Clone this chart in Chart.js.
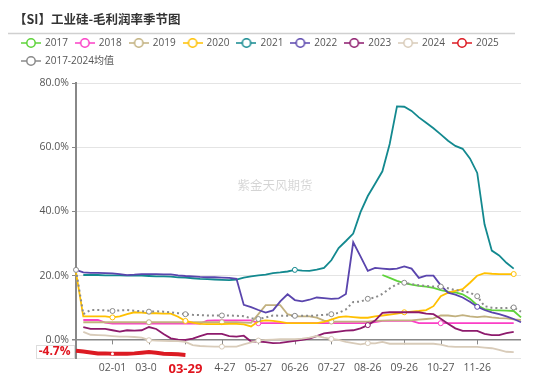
<!DOCTYPE html>
<html><head><meta charset="utf-8">
<script src="https://cdn.jsdelivr.net/npm/chart.js@4/dist/chart.umd.min.js"></script>
<style>html,body{margin:0;padding:0;background:#fff;}#wrap{width:550px;height:378px;position:relative;}</style>
</head><body><div id="wrap"><canvas id="c" width="550" height="378"></canvas></div>
<script>
const titleText = '【SI】工业硅-毛利润率季节图';
const watermark = '紫金天风期货';
const categories = ['01-02','01-08','01-14','01-20','01-26','02-01','02-07','02-13','02-19','02-24',
'03-01','03-07','03-13','03-18','03-23','03-29','04-04','04-10','04-16','04-21',
'04-27','05-03','05-09','05-15','05-21','05-27','06-02','06-08','06-14','06-20',
'06-26','07-02','07-08','07-14','07-20','07-27','08-02','08-08','08-14','08-20',
'08-26','09-01','09-07','09-13','09-19','09-26','10-02','10-08','10-14','10-20',
'10-27','11-02','11-08','11-14','11-20','11-26','12-02','12-08','12-14','12-20','12-26','12-31'];
const xTickLabels = ['02-01','03-01','03-29','04-27','05-27','06-26','07-27','08-26','09-26','10-27','11-26'];
const yTicks = [0, 20, 40, 60, 80];
const seriesNames = ['2017','2018','2019','2020','2021','2022','2023','2024','2025','2017-2024均值'];
const seriesColors = ['#5ed33a','#fb3fc6','#c2b17f','#ffc000','#13898f','#5a45ad','#8d1a6c','#d8cbb9','#dc1a22','#8a8a8a'];
// which category indices carry a hollow symbol, per series (as seen in the source)
const markerIdx = [
  [],
  [25, 50],
  [10, 20, 35],
  [5, 15, 45, 60],
  [30],
  [55],
  [40],
  [10, 20, 25, 35, 40],
  [5],
  [0, 5, 10, 15, 20, 25, 30, 35, 40, 45, 50, 55, 60]
];

const s2017 = [null,null,null,null,null,null,null,null,null,null,
null,null,null,null,null,null,null,null,null,null,
null,null,null,null,null,null,null,null,null,null,
null,null,null,null,null,null,null,null,null,null,
null,null,20.2,19.3,18.4,17.7,17.2,16.8,16.6,16.2,
15.5,15.0,14.8,14.2,12.8,10.8,9.6,9.3,9.2,9.1,9.0,7.0];
const s2018 = [null,6.2,6.2,6.2,5.4,5.1,5.1,5.1,5.1,5.1,
5.1,5.1,5.1,5.1,5.1,5.1,5.1,5.1,6.0,6.1,
6.1,6.1,6.1,6.1,6.1,5.2,5.2,5.2,5.2,5.2,
5.2,5.2,5.2,5.2,5.2,5.2,5.2,5.2,5.2,5.2,
5.2,5.5,5.9,5.9,5.9,5.9,5.9,5.2,5.2,5.2,
5.2,5.2,5.2,5.2,5.2,5.2,5.2,5.2,5.2,5.2,5.2,null];
const s2019 = [null,5.5,5.5,5.5,5.5,5.5,5.5,5.5,5.5,5.5,
5.5,5.5,5.5,5.5,5.5,5.5,5.5,5.5,5.5,5.5,
5.5,5.5,5.5,5.4,5.3,8.0,10.8,10.8,10.8,8.0,
7.3,7.3,7.3,6.9,6.0,5.7,5.7,5.7,5.7,5.7,
5.7,5.9,6.0,6.1,6.1,6.1,6.1,6.3,6.5,6.7,
7.6,7.6,7.3,7.7,7.3,7.1,7.3,7.0,6.8,6.7,6.4,6.2];
const s2020 = [21.0,7.3,7.3,7.3,7.3,7.0,7.3,8.0,8.6,8.5,
8.3,8.3,8.2,8.2,7.2,5.9,5.4,5.0,4.9,4.9,
4.9,5.0,5.0,4.8,4.2,5.8,6.1,5.9,5.6,5.2,
5.2,5.2,5.2,5.2,5.6,6.3,7.1,7.3,7.1,6.9,
6.9,7.3,7.6,7.9,8.2,8.6,8.8,9.0,9.3,10.5,
13.6,14.7,15.3,15.8,17.8,20.0,20.8,20.6,20.5,20.5,20.5,null];
const s2021 = [null,20.2,20.2,20.2,20.1,20.1,20.1,20.0,20.0,20.0,
19.9,19.8,19.8,19.7,19.5,19.4,19.2,19.0,18.9,18.8,
18.7,18.6,18.8,19.4,19.8,20.1,20.3,20.8,21.0,21.3,
21.8,21.6,21.5,21.9,22.4,24.8,28.6,30.8,33.1,39.8,
44.8,48.6,52.5,61.0,72.7,72.6,71.3,69.3,67.6,65.9,
64.0,62.0,60.4,59.5,56.5,52.0,36.0,27.8,26.3,24.0,22.2,null];
const s2022 = [21.8,21.0,20.9,20.9,20.8,20.7,20.5,20.2,20.3,20.5,
20.5,20.5,20.4,20.4,20.1,19.9,19.8,19.6,19.5,19.5,
19.4,19.3,19.0,10.9,10.2,9.3,8.5,9.2,12.0,14.2,
12.4,12.0,12.5,13.2,13.0,12.8,12.9,14.3,30.4,26.0,
21.5,22.4,22.2,22.0,22.2,22.9,22.2,19.3,20.0,20.0,
17.0,14.7,14.1,13.2,11.9,10.3,9.3,8.6,8.0,7.3,6.5,5.5];
const s2023 = [null,4.0,3.4,3.4,3.4,3.0,2.6,3.0,2.9,3.0,
4.0,3.4,1.8,0.5,0.1,0.0,0.4,1.2,1.9,1.9,
1.9,1.2,1.0,1.3,-0.5,-0.5,-0.7,-1.0,-0.9,-0.6,
-0.3,0.0,0.4,1.2,2.0,2.3,2.6,2.9,3.0,3.6,
4.6,6.0,8.4,8.6,8.6,8.6,8.6,8.6,8.2,8.0,
6.6,5.0,3.6,2.8,2.8,2.8,1.9,1.5,1.5,2.1,2.5,null];
const s2024 = [null,2.5,1.6,1.5,1.4,1.2,1.0,1.0,0.9,0.7,
-0.1,-0.2,-0.3,-0.4,-0.4,-0.6,-1.6,-1.9,-2.0,-2.1,
-2.1,-2.1,-2.1,-1.4,-0.8,-0.2,0.0,0.1,0.2,0.2,
0.2,0.4,0.7,1.2,0.7,0.3,0.0,-0.6,-1.0,-1.4,
-1.0,-1.1,-0.6,-1.2,-1.2,-1.2,-1.2,-1.2,-1.2,-1.2,
-1.5,-2.0,-2.2,-2.2,-2.2,-2.2,-2.4,-2.6,-3.1,-3.7,-3.8,null];
const s2025 = [-3.4,-3.6,-3.9,-4.2,-4.2,-4.3,-4.3,-4.3,-4.2,-4.0,
-3.8,-4.0,-4.3,-4.4,-4.5,-4.7,null,null,null,null,
null,null,null,null,null,null,null,null,null,null,
null,null,null,null,null,null,null,null,null,null,
null,null,null,null,null,null,null,null,null,null,
null,null,null,null,null,null,null,null,null,null,null,null];
const sAvg = [21.8,8.0,9.3,9.3,9.2,9.0,9.2,9.3,9.1,8.9,
8.8,8.9,8.8,8.6,8.3,8.0,7.8,7.7,7.6,7.6,
7.6,7.6,7.5,7.4,6.7,6.5,7.0,7.6,7.5,7.5,
7.5,7.5,7.5,7.6,7.8,8.0,8.4,9.5,11.8,11.9,
12.8,13.2,14.3,16.0,17.4,17.8,17.4,17.0,16.8,16.6,
16.6,16.1,15.5,15.2,14.7,13.6,10.5,10.0,9.9,9.9,10.1,8.8];

const seriesData = [s2017,s2018,s2019,s2020,s2021,s2022,s2023,s2024,s2025,sAvg];
const FONT = "'Open Sans', 'Noto Sans CJK SC', sans-serif";
const yMin = Math.min(...s2025.filter(v => v !== null)) * 1.2;
const yMax = 80;

function makeIcon(color) {
  const cv = document.createElement('canvas');
  cv.width = 20; cv.height = 12;
  const g = cv.getContext('2d');
  g.strokeStyle = color; g.lineWidth = 1.5;
  g.beginPath(); g.moveTo(0, 6); g.lineTo(20, 6); g.stroke();
  g.beginPath(); g.arc(10, 6, 4.2, 0, Math.PI * 2);
  g.fillStyle = '#fff'; g.fill(); g.stroke();
  return cv;
}
const icons = seriesColors.map(makeIcon);

const datasets = seriesData.map((d, k) => {
  const isAvg = k === seriesData.length - 1;
  const isCur = seriesNames[k] === '2025';
  return {
    label: seriesNames[k],
    data: d,
    borderColor: seriesColors[k],
    backgroundColor: seriesColors[k],
    borderWidth: isCur ? 4 : (isAvg ? 2 : 1.8),
    borderDash: isAvg ? [2, 3] : [],
    tension: 0,
    fill: false,
    spanGaps: false,
    order: seriesData.length - k,
    pointRadius: (c) => (markerIdx[k].includes(c.dataIndex) && c.raw !== null) ? (isCur ? 1.5 : 2.5) : 0,
    pointHoverRadius: 0,
    pointBackgroundColor: '#fff',
    pointBorderColor: seriesColors[k],
    pointBorderWidth: isCur ? 0 : 1
  };
});

// empty layout box that keeps a gap between the legend and the plot
const spacer = {
  id: 'spacer',
  beforeInit(chart) {
    Chart.layouts.addBox(chart, {
      position: 'top', weight: -10, fullSize: true, options: {},
      top: 0, left: 0, right: 0, bottom: 0, width: 0, height: 0,
      isHorizontal() { return true; },
      update(maxWidth) { this.width = maxWidth; this.height = 7; },
      draw() {}
    });
  }
};

const decor = {
  id: 'decor',
  beforeDraw(chart) {
    const c = chart.ctx;
    c.save();
    c.fillStyle = '#fff'; c.fillRect(0, 0, chart.width, chart.height);
    c.strokeStyle = '#d0d0d0'; c.lineWidth = 1.5;
    c.beginPath(); c.moveTo(8, 33.5); c.lineTo(515, 33.5); c.stroke();
    c.restore();
  },
  beforeDatasetsDraw(chart) {
    const {ctx: c, chartArea: a, scales: {x, y}} = chart;
    c.save();
    c.font = "12.5px 'Noto Sans CJK SC', sans-serif";
    c.fillStyle = 'rgba(0,0,0,0.17)';
    c.textAlign = 'center'; c.textBaseline = 'middle';
    c.fillText(watermark, a.left + (a.right - a.left) * 0.447, a.top + (a.bottom - a.top) * 0.37);
    const y0 = y.getPixelForValue(0);
    c.strokeStyle = '#888'; c.lineWidth = 1;
    categories.forEach((d, i) => {
      if (xTickLabels.includes(d)) {
        const px = Math.round(x.getPixelForValue(i)) + 0.5;
        c.beginPath(); c.moveTo(px, y0); c.lineTo(px, y0 + 4.5); c.stroke();
      }
    });
    c.restore();
  },
  afterDraw(chart) {
    const {ctx: c, chartArea: a, scales: {x, y}} = chart;
    let li = -1;
    s2025.forEach((v, i) => { if (v !== null) li = i; });
    const v = s2025[li];
    c.save();
    const xt = categories[li];
    const px = x.getPixelForValue(li);
    c.font = 'bold 13px ' + FONT;
    const tw = c.measureText(xt).width;
    c.fillStyle = '#fff';
    c.fillRect(px - tw / 2 - 12, a.bottom + 3, tw + 24, 17);
    c.fillStyle = '#e0141e'; c.textAlign = 'center'; c.textBaseline = 'middle';
    c.fillText(xt, px, a.bottom + 11.5);
    const yt = v.toFixed(1) + '%';
    const py = Math.min(y.getPixelForValue(v), a.bottom - 6.5);
    c.font = 'bold 12px ' + FONT;
    const tw2 = c.measureText(yt).width;
    const right = a.left - 2.5;
    const left = right - tw2 - 6;
    c.fillStyle = '#fff';
    c.fillRect(left, py - 6.5, right - left, 13);
    c.strokeStyle = '#dddddd'; c.lineWidth = 1;
    c.strokeRect(Math.round(left) + 0.5, Math.round(py - 6.5) + 0.5, Math.round(right - left), 13);
    c.fillStyle = '#e0141e'; c.textAlign = 'center'; c.textBaseline = 'middle';
    c.fillText(yt, (left + right) / 2, py + 0.5);
    c.restore();
  }
};

new Chart(document.getElementById('c'), {
  type: 'line',
  data: { labels: categories, datasets },
  plugins: [spacer, decor],
  options: {
    responsive: false,
    animation: false,
    events: [],
    layout: { padding: { left: 14, right: 29, top: 4, bottom: 0 } },
    plugins: {
      tooltip: { enabled: false },
      title: {
        display: true, text: titleText, align: 'start', color: '#333',
        font: { size: 12.5, weight: 'bold', family: "'Noto Sans CJK SC', sans-serif" },
        padding: { top: 8, bottom: 3 }
      },
      legend: {
        display: true, position: 'top', align: 'start',
        labels: {
          font: { size: 10, family: FONT }, color: '#555',
          usePointStyle: true, pointStyleWidth: 18, boxHeight: 10, padding: 8,
          generateLabels: (chart) => chart.data.datasets.map((ds, i) => ({
            text: ds.label, fillStyle: '#fff', strokeStyle: ds.borderColor, lineWidth: 1.5,
            hidden: false, datasetIndex: i, pointStyle: icons[i], fontColor: '#555'
          }))
        }
      }
    },
    scales: {
      x: {
        type: 'category',
        grid: { display: false, drawTicks: false },
        border: { display: false },
        afterFit: (s) => { s.height = 20; },
        ticks: {
          autoSkip: false, maxRotation: 0, minRotation: 0, padding: 4,
          font: { size: 10.5, family: FONT }, color: '#555',
          callback: (val, idx) => xTickLabels.includes(categories[idx]) ? categories[idx] : ''
        }
      },
      y: {
        min: yMin, max: yMax,
        afterBuildTicks: (s) => { s.ticks = [{ value: yMin }].concat(yTicks.map(v => ({ value: v }))); },
        afterFit: (s) => { s.width = 62; },
        grid: {
          color: (c) => c.tick && c.tick.value === 0 ? '#888' : '#e4e4e4',
          lineWidth: (c) => c.tick && c.tick.value === 0 ? 1.5 : 1,
          tickLength: 4, tickColor: '#888', drawTicks: true
        },
        border: { display: true, color: '#888', width: 2 },
        ticks: {
          padding: 3, font: { size: 10.5, family: FONT }, color: '#555',
          callback: (v) => yTicks.includes(v) ? v.toFixed(1) + '%' : ''
        }
      }
    }
  }
});
</script>
</body></html>
